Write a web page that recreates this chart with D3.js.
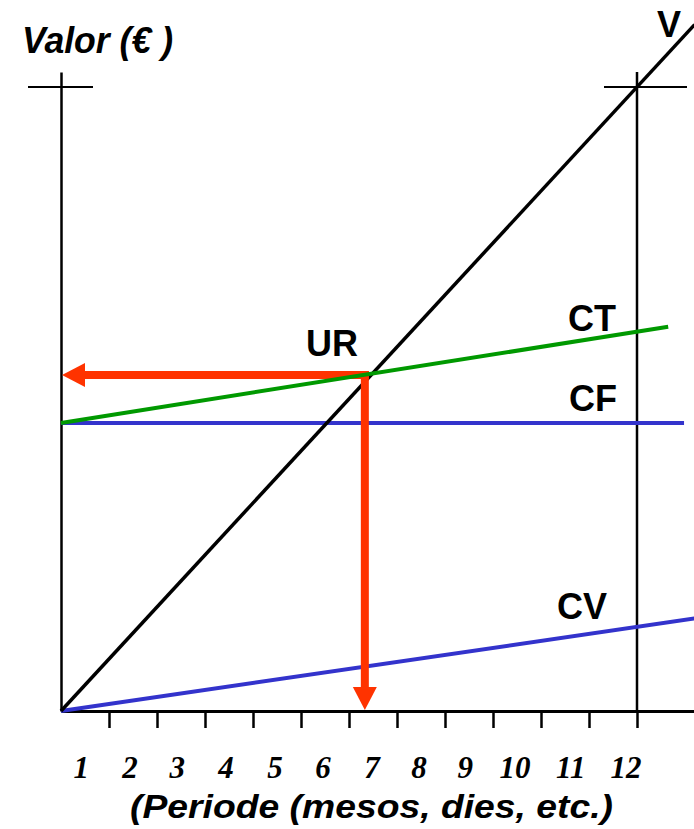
<!DOCTYPE html>
<html>
<head>
<meta charset="utf-8">
<script src="https://cdn.jsdelivr.net/npm/d3@7"></script>
<style>
  body { margin: 0; background: #fff; }
  svg { display: block; }
  .lbl { font-family: "Liberation Sans", Arial, sans-serif; font-weight: bold; font-size: 36px; }
  .num { font-family: "Liberation Serif", "Times New Roman", serif; font-weight: bold; font-style: italic; font-size: 31px; }
</style>
</head>
<body>
<div id="chart"></div>
<script>
// months on the x axis
const months = [1, 2, 3, 4, 5, 6, 7, 8, 9, 10, 11, 12];
// where each month label sits (in month units, labels are drawn left of the ticks)
const monthLabelPos = [0.42, 1.44, 2.42, 3.44, 4.46, 5.46, 6.48, 7.46, 8.42, 9.46, 10.62, 11.77];

// lines as [month, value]
const vendes = [[0, 0], [13.2, 1320]];          // V
const costFix = [[0, 554], [12.98, 554]];       // CF
const costVar = [[0, 0], [13.2, 178]];          // CV
const costTotal = [[0, 554], [12.65, 739]];     // CT
const llindar = [6.33, 646];                    // UR
const valorRef = 1200;                          // crossbars at 12 months

const width = 694, height = 829;

const svg = d3.select("#chart")
    .append("svg")
    .attr("width", width)
    .attr("height", height);

const x = d3.scaleLinear().domain([0, 13.2]).range([61, 694.6]);
const y = d3.scaleLinear().domain([0, 1200]).range([711, 87]);

const line = d3.line().x(d => x(d[0])).y(d => y(d[1]));

// y axis line (no ticks) + right vertical
svg.append("g")
    .attr("transform", `translate(${x(0)},0)`)
    .call(d3.axisLeft(y.copy().domain([0, 1229]).range([711, 72])).tickValues([]).tickSizeOuter(0))
    .call(g => g.select(".domain").attr("stroke-width", 2.5));

svg.append("line")
    .attr("x1", x(12)).attr("x2", x(12))
    .attr("y1", y(1229)).attr("y2", y(0))
    .attr("stroke", "#000").attr("stroke-width", 2.5);

// crossbars
svg.append("line")
    .attr("x1", x(0) - 33).attr("x2", x(0) + 32)
    .attr("y1", y(valorRef)).attr("y2", y(valorRef))
    .attr("stroke", "#000").attr("stroke-width", 2);
svg.append("line")
    .attr("x1", x(12) - 33).attr("x2", x(12) + 50)
    .attr("y1", y(valorRef)).attr("y2", y(valorRef))
    .attr("stroke", "#000").attr("stroke-width", 2);

// x axis
svg.append("g")
    .attr("transform", `translate(0,${y(0)})`)
    .call(d3.axisBottom(x).tickValues(months).tickFormat("").tickSizeInner(17).tickSizeOuter(0))
    .call(g => g.select(".domain").attr("stroke-width", 3))
    .call(g => g.selectAll(".tick line").attr("stroke-width", 2.5));

svg.selectAll(".num")
    .data(months)
    .join("text")
    .attr("class", "num")
    .attr("x", (d, i) => x(monthLabelPos[i]))
    .attr("y", 778)
    .attr("text-anchor", "middle")
    .text(d => d);

// cost and sales lines
svg.append("path").datum(costVar).attr("d", line)
    .attr("fill", "none").attr("stroke", "#3333cc").attr("stroke-width", 4);
svg.append("path").datum(costFix).attr("d", line)
    .attr("fill", "none").attr("stroke", "#3333cc").attr("stroke-width", 4);
svg.append("path").datum(vendes).attr("d", line)
    .attr("fill", "none").attr("stroke", "#000").attr("stroke-width", 3.5);

// red arrows from UR
const red = "#ff3300";
const ux = x(llindar[0]), uy = y(llindar[1]);
const head = 23, half = 12;
svg.append("path")
    .attr("d", `M${ux + 4},${uy}H${x(0) + head}`)
    .attr("stroke", red).attr("stroke-width", 8).attr("fill", "none");
svg.append("path")
    .attr("d", `M${ux},${uy - 4}V${y(0) - head}`)
    .attr("stroke", red).attr("stroke-width", 8).attr("fill", "none");
svg.append("path")
    .attr("d", `M${x(0) + 1},${uy}L${x(0) + 1 + head},${uy - half}L${x(0) + 1 + head},${uy + half}Z`)
    .attr("fill", red);
svg.append("path")
    .attr("d", `M${ux},${y(0) - 1}L${ux - half},${y(0) - 1 - head}L${ux + half},${y(0) - 1 - head}Z`)
    .attr("fill", red);

svg.append("path").datum(costTotal).attr("d", line)
    .attr("fill", "none").attr("stroke", "#009900").attr("stroke-width", 4);

// labels
const labels = [
    { t: "V", x: 657, y: 37 },
    { t: "CT", x: 568, y: 331 },
    { t: "CF", x: 569, y: 411 },
    { t: "CV", x: 557, y: 619 },
    { t: "UR", x: 306, y: 356 }
];
svg.selectAll(".lbl")
    .data(labels)
    .join("text")
    .attr("class", "lbl")
    .attr("x", d => d.x)
    .attr("y", d => d.y)
    .text(d => d.t);

svg.append("text")
    .attr("class", "lbl")
    .attr("x", 22).attr("y", 53)
    .attr("font-style", "italic")
    .style("font-size", "37px")
    .attr("textLength", 151).attr("lengthAdjust", "spacingAndGlyphs")
    .text("Valor (€ )");

svg.append("text")
    .attr("class", "lbl")
    .attr("x", 130).attr("y", 818)
    .attr("font-style", "italic")
    .style("font-size", "33px")
    .attr("textLength", 483).attr("lengthAdjust", "spacingAndGlyphs")
    .text("(Periode (mesos, dies, etc.)");
</script>
</body>
</html>
